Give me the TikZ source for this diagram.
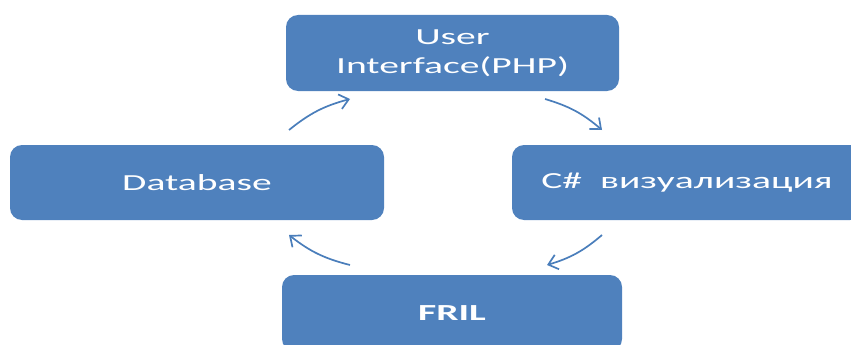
\documentclass[tikz,border=0pt]{standalone}
\usepackage{fontspec}
\setmainfont{Carlito}[FakeStretch=1.72]
\usetikzlibrary{arrows.meta}
\definecolor{boxblue}{RGB}{79,129,189}
\definecolor{arrowblue}{RGB}{74,126,187}
\tikzset{
  blockbox/.style={draw=none, fill=boxblue, rounded corners=12pt, text=white,
    inner sep=0pt, align=center, font=\fontsize{23}{29}\selectfont},
  flowarrow/.style={draw=arrowblue, line width=1.7pt,
    -{Straight Barb[length=9pt, width=15pt, line width=1.7pt]}, bend left=12}
}
\begin{document}
\begin{tikzpicture}[x=1pt, y=-1pt]
  \useasboundingbox (0,0) rectangle (851,345);
  \node[blockbox, minimum width=333pt, minimum height=76pt] (ui) at (452.5,53) {User\\Interface(PHP)};
  \node[blockbox, minimum width=374pt, minimum height=75pt] (db) at (197,182.5) {Database};
  \node[blockbox, minimum width=350pt, minimum height=75pt] (cs) at (687,182.5) {C\#\ \ визуализация};
  \node[blockbox, minimum width=340pt, minimum height=76pt, font=\fontsize{23}{29}\selectfont\bfseries] (fril) at (452,313) {FRIL};
  \coordinate (a1s) at (289,130);
  \coordinate (a1e) at (350,99);
  \coordinate (a2s) at (545,99);
  \coordinate (a2e) at (602,130);
  \coordinate (a3s) at (602,235);
  \coordinate (a3e) at (547,265);
  \coordinate (a4s) at (350,265);
  \coordinate (a4e) at (289,235);
  \draw[flowarrow] (a1s) to (a1e);
  \draw[flowarrow] (a2s) to (a2e);
  \draw[flowarrow] (a3s) to (a3e);
  \draw[flowarrow] (a4s) to (a4e);
\end{tikzpicture}
\end{document}
